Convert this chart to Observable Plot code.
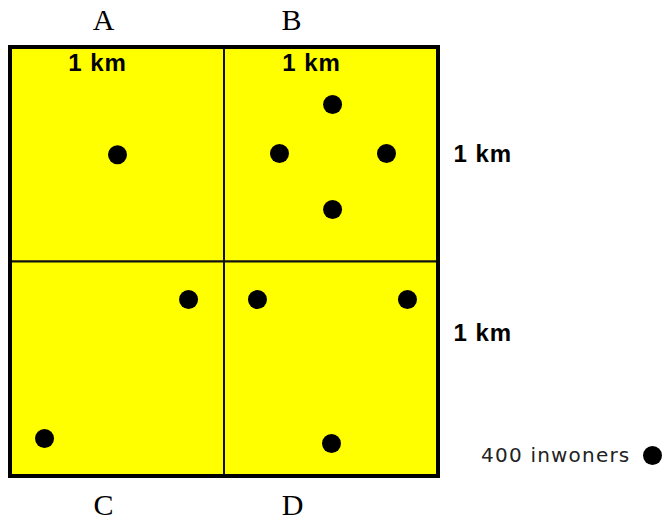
<!DOCTYPE html>
<html>
<head>
<meta charset="utf-8">
<script src="https://cdn.jsdelivr.net/npm/d3@7"></script>
<script src="https://cdn.jsdelivr.net/npm/@observablehq/plot@0.6"></script>
<style>
  html, body { margin: 0; padding: 0; background: #fff; }
  svg { display: block; }
</style>
</head>
<body>
<div id="chart"></div>
<script>
// Quadrant names
const quadrants = ["A", "B", "C", "D"];
// Quadrant cells (km)
const cellX = [0, 1, 0, 1];
const cellY = [0, 0, 1, 1];
// Dots: each = 400 inhabitants (positions in km, y measured downward)
const dotQuadrant = ["A", "B", "B", "B", "B", "C", "C", "D", "D", "D"];
const dotX = [0.50, 1.505, 1.257, 1.757, 1.505, 0.832, 0.159, 1.154, 1.855, 1.500];
const dotY = [0.50, 0.266, 0.494, 0.494, 0.755, 1.175, 1.823, 1.175, 1.175, 1.846];
// Labels
const scaleLabel = "1 km";
const legendLabel = "400 inwoners";

const cells = quadrants.map((q, i) => ({q, x1: cellX[i], x2: cellX[i] + 1, y1: cellY[i], y2: cellY[i] + 1}));
const dots = dotX.map((x, i) => ({q: dotQuadrant[i], x, y: dotY[i]}));

const chart = Plot.plot({
  width: 664,
  height: 521,
  margin: 0,
  style: {background: "#fff"},
  x: {domain: [0, 2], range: [10, 438], axis: null},
  y: {domain: [0, 2], range: [47, 476], axis: null},
  marks: [
    Plot.rect(cells, {x1: "x1", x2: "x2", y1: "y1", y2: "y2", fill: "#ffff00", stroke: "#111", strokeWidth: 2}),
    Plot.rect([0], {x1: 0, x2: 2, y1: 0, y2: 2, fill: "none", stroke: "#000", strokeWidth: 4}),
    Plot.dot(dots, {x: "x", y: "y", r: 9.5, fill: "#000", stroke: "none"}),
    // Quadrant letters
    Plot.text(quadrants.slice(0, 2), {x: (d, i) => i * 0.878 + 0.435, y: -0.128, text: d => d,
      fontFamily: "Liberation Serif", fontSize: 30, fill: "#000"}),
    Plot.text(quadrants.slice(2), {x: (d, i) => i * 0.883 + 0.435, y: 2.135, text: d => d,
      fontFamily: "Liberation Serif", fontSize: 30, fill: "#000"}),
    // 1 km labels across the top
    Plot.text([scaleLabel, scaleLabel], {x: (d, i) => i + 0.407, y: 0.072, text: d => d,
      fontFamily: "Liberation Sans", fontWeight: "bold", fontSize: 24, fill: "#000"}),
    // 1 km labels on the right
    Plot.text([scaleLabel, scaleLabel], {x: 2.07, y: (d, i) => i === 0 ? 0.50 : 1.333, text: d => d,
      textAnchor: "start", fontFamily: "Liberation Sans", fontWeight: "bold", fontSize: 24, fill: "#000"}),
    // Legend
    Plot.text([legendLabel], {x: 2.897, y: 1.902, text: d => d, textAnchor: "end",
      fontFamily: "DejaVu Sans", fontSize: 20, fill: "#222"}),
    Plot.dot([legendLabel], {x: 3.0, y: 1.902, r: 9.5, fill: "#000", stroke: "none"})
  ]
});

const texts = d3.select(chart).selectAll("text");
texts.filter(function () { return this.textContent === scaleLabel; }).style("letter-spacing", "1px");
texts.filter(function () { return this.textContent === legendLabel; }).style("letter-spacing", "1.2px");

document.getElementById("chart").appendChild(chart);
</script>
</body>
</html>
